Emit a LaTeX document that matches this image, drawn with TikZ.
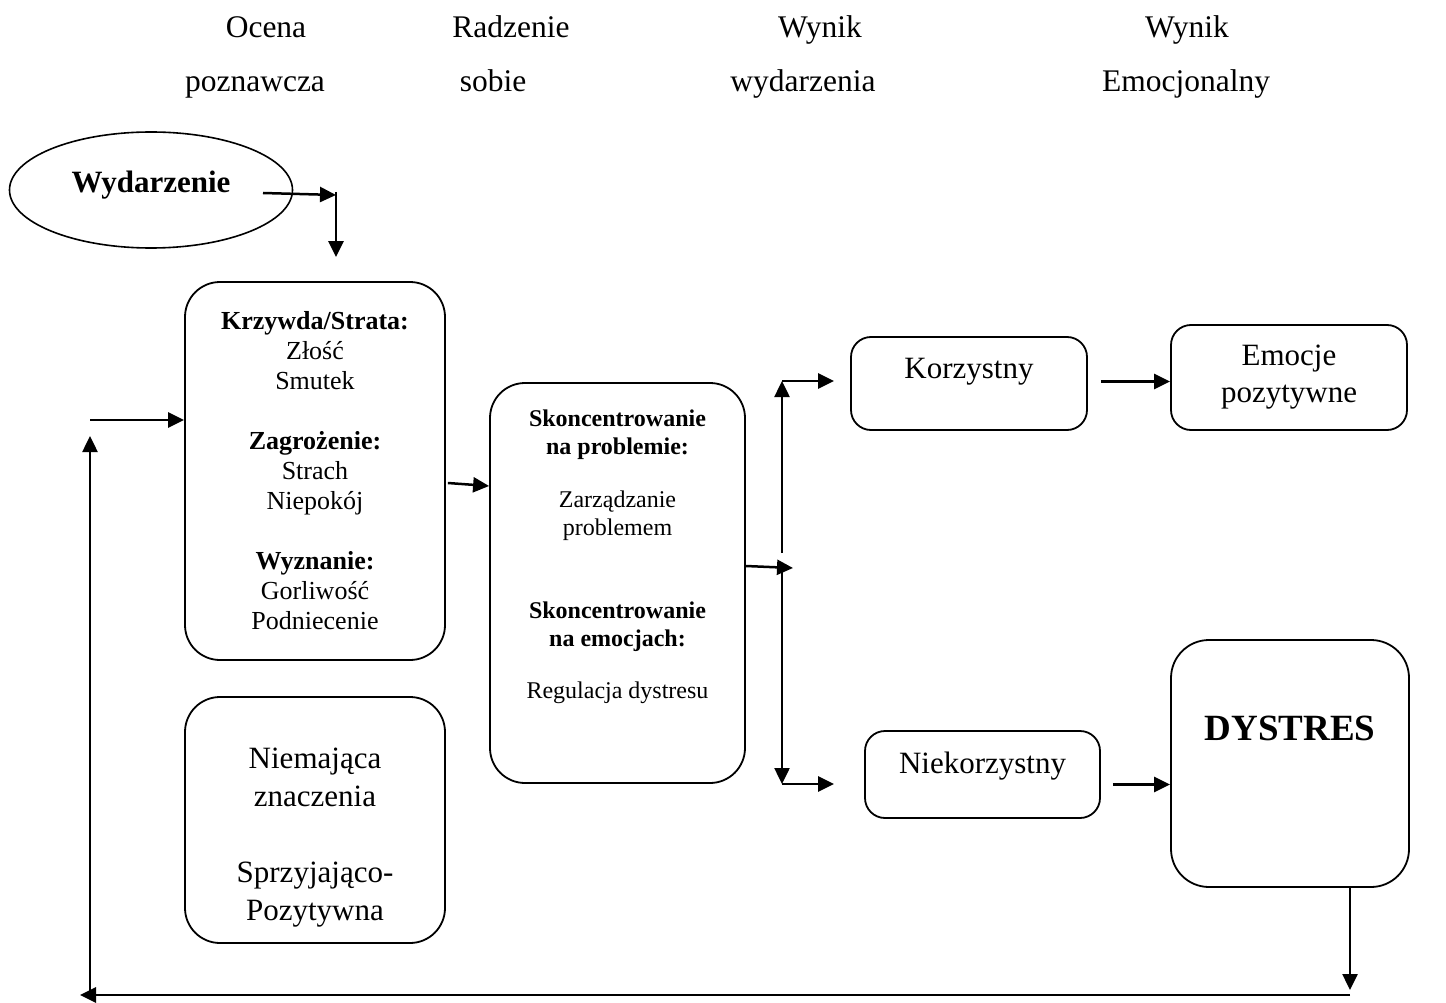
\documentclass[tikz,border=0pt]{standalone}
\usepackage{fontspec}
\setmainfont{Liberation Serif}
\usetikzlibrary{arrows.meta,shapes.geometric,calc}

\newcommand{\fs}[2]{\fontsize{#1}{#2}\selectfont}

\begin{document}
\begin{tikzpicture}[x=1pt,y=-1pt,
  box/.style={draw,line width=1.8pt,rounded corners=#1,inner sep=0pt,align=center},
  box/.default=20pt,
  arr/.style={line width=2.5pt,-{Triangle[length=16pt,width=15pt]}},
  head/.style={anchor=base,font=\fs{31.5}{36}}]
\useasboundingbox (0,0) rectangle (1446,1003);

\node[head] (h1a) at (266,38) {Ocena};
\node[head] (h1b) at (255,92) {poznawcza};
\node[head] (h2a) at (511,38) {Radzenie};
\node[head] (h2b) at (493,92) {sobie};
\node[head] (h3a) at (820,38) {Wynik};
\node[head] (h3b) at (803,92) {wydarzenia};
\node[head] (h4a) at (1187,38) {Wynik};
\node[head] (h4b) at (1186,92) {Emocjonalny};

\node[draw,ellipse,line width=1.6pt,minimum width=283pt,minimum height=116pt,
  font=\bfseries\fs{31}{36},text depth=17pt] (ev) at (151,190) {Wydarzenie};

\node[box=35pt,minimum width=260pt,minimum height=378pt,font=\fs{26}{30}] (b1) at (315,471)
  {\textbf{Krzywda/Strata:}\\Złość\\Smutek\\[30pt]\textbf{Zagrożenie:}\\Strach\\Niepokój\\[30pt]%
   \textbf{Wyznanie:}\\Gorliwość\\Podniecenie};

\node[box=35pt,minimum width=255pt,minimum height=400pt] (b2) at (617.5,583) {};
\node[font=\fs{24}{28},align=center] (b2t) at (617.5,557)
  {\textbf{Skoncentrowanie}\\\textbf{na problemie:}\\[25pt]Zarządzanie\\problemem\\[55pt]%
   \textbf{Skoncentrowanie}\\\textbf{na emocjach:}\\[24pt]Regulacja dystresu};

\node[box,minimum width=236pt,minimum height=93pt,font=\fs{31}{37},text depth=30pt] (b3) at (969,383.5) {Korzystny};
\node[box,minimum width=236pt,minimum height=105pt,font=\fs{31}{37}] (b4) at (1289,377.5) {Emocje\\pozytywne};
\node[box,minimum width=235pt,minimum height=87pt,font=\fs{31}{37},text depth=24pt] (b5) at (982.5,774.5) {Niekorzystny};

\node[box=38pt,minimum width=238pt,minimum height=247pt] (b6) at (1290,763.5) {};
\node[font=\bfseries\fs{37}{44}] (b6t) at (1290,728) {DYSTRES};

\node[box=35pt,minimum width=260pt,minimum height=246pt] (b7) at (315,820) {};
\node[font=\fs{31}{38},align=center] (b7t) at (315,838) {Niemająca\\znaczenia\\[38pt]Sprzyjająco-\\Pozytywna};

\coordinate (j1) at (336,195);
\coordinate (fork) at (782,562);
\coordinate (up) at (782,381);
\coordinate (dn) at (782,784);
\coordinate (mid) at (793,568);
\coordinate (c1) at (1350,995);
\coordinate (c2) at (80,995);
\coordinate (c3) at (90,436);
\coordinate (c4) at (90,420);

\draw[arr] ($(ev.center)+(112,3)$) -- (j1);
\draw[arr] ($(j1)+(0,-3)$) -- ($(j1 |- b1.north)+(0,-24)$);
\draw[arr] (c4) -- (c4 -| b1.west);
\draw[arr] ($(c2)+(10,-2)$) -- (c3);
\draw[arr,line width=2.8pt] (c1) -- (c2);
\draw[arr] (b6.south -| c1) -- ($(c1)+(0,-5)$);

\draw[arr] ($(b1.east)+(2,12)$) -- ($(b2.west)+(0,-97)$);
\draw[arr] ($(b2.east)+(0,-17)$) -- (mid);
\draw[arr] ($(fork)+(0,-9)$) -- (up);
\draw[arr] ($(fork)+(0,10)$) -- (dn);
\draw[arr] (up) -- ($(up -| b3.west)+(-16,0)$);
\draw[arr] (dn) -- ($(dn -| b5.west)+(-30,0)$);
\draw[arr] ($(b3.east)+(13,-2)$) -- ($(b3.east -| b4.west)+(0,-2)$);
\draw[arr] ($(b5.east)+(12,10)$) -- ($(b5.east -| b6.west)+(0,10)$);
\end{tikzpicture}
\end{document}
